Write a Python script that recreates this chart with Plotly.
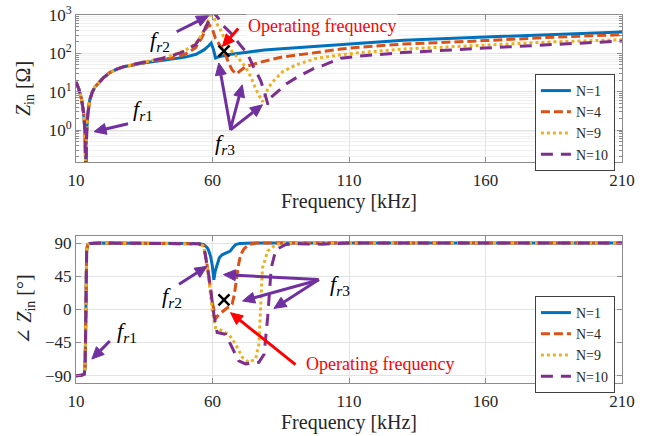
import math
import plotly.graph_objects as go

# ---------------- data ----------------
# magnitude |Zin| in ohm
f_mag_n1 = [10, 11, 12, 12.8, 13.3, 13.6, 13.9, 14.3, 15, 16, 17, 18.5, 20, 22.5, 25, 27.5, 30, 35, 40,
            45, 50, 54, 57, 58.6, 59.5, 60.3, 61.1, 62, 64, 66, 72, 79, 84, 98, 110, 130, 160, 185, 210]
z_n1 = [18, 12, 6.5, 2.8, 0.9, 0.05, 0.9, 2.5, 6, 10, 13.5, 18, 23, 32, 39, 45, 49, 57, 63,
        70, 80, 95, 125, 158, 185, 130, 76, 80, 88, 93, 105, 123, 130, 152, 180, 220, 268, 315, 360]

f_mag_n4 = [10, 11, 12, 12.8, 13.3, 13.6, 13.9, 14.3, 15, 16, 17, 18.5, 20, 22.5, 25, 27.5, 30, 35, 40,
            45, 50, 53.8, 56, 57.5, 58.8, 60, 61.1, 63, 64.8, 66, 67.2, 68.7, 70, 72, 78, 85.6, 98, 107,
            114, 130, 160, 185, 210]
z_n4 = [18, 12, 6.5, 2.8, 0.9, 0.05, 0.9, 2.5, 6, 10, 13.5, 18, 23, 32, 39, 45, 49, 58, 66,
        76, 95, 140, 250, 430, 560, 420, 245, 150, 91, 55, 37, 29, 34, 45, 60, 81, 105, 130,
        145, 175, 215, 265, 306]

f_mag_n9 = [10, 11, 12, 12.8, 13.3, 13.6, 13.9, 14.3, 15, 16, 17, 18.5, 20, 22.5, 25, 27.5, 30, 35, 40,
            45, 50, 53.8, 56, 58, 59.6, 61, 63, 64.2, 67, 69.5, 72, 74, 75.8, 77.5, 78.3, 79.5, 80.5,
            82, 85.6, 90.5, 98, 107, 114, 130, 160, 185, 210]
z_n9 = [18, 12, 6.5, 2.8, 0.9, 0.05, 0.9, 2.5, 6, 10, 13.5, 18, 23, 32, 39, 45, 50, 60, 70,
        88, 120, 180, 300, 600, 1200, 700, 400, 260, 115, 75, 45, 25, 12, 7, 5.5, 9, 13,
        18, 33, 50, 74, 92, 105, 130, 168, 200, 228]

f_mag_n10 = [10, 11, 12, 12.8, 13.3, 13.6, 13.9, 14.3, 15, 16, 17, 18.5, 20, 22.5, 25, 27.5, 30, 35, 40,
             45, 50, 53.8, 56, 58, 60.2, 62, 64, 66, 67.8, 70, 72.7, 75, 77.6, 79, 80.3, 81.3, 83.8,
             87, 91, 97, 101, 107, 114, 130, 160, 185, 210]
z_n10 = [18, 12, 6.5, 2.8, 0.9, 0.05, 0.9, 2.5, 6, 10, 13.5, 18, 23, 32, 39, 45, 50, 60, 70,
         86, 115, 170, 290, 560, 1200, 850, 520, 380, 277, 170, 102, 45, 20, 10, 4.6, 7, 10,
         16, 24, 40, 50, 75, 85, 105, 138, 172, 210]

# phase of Zin in degrees
f_ph_n1 = [10, 12, 13, 13.3, 13.5, 13.6, 13.7, 13.9, 14.3, 15, 20, 40, 55, 56.8, 58, 58.6, 59.3, 59.9,
           60.5, 61, 61.7, 62.5, 63.5, 65, 66.5, 67.5, 68.5, 70, 75, 210]
ph_n1 = [-90, -89.5, -88, -80, -40, 0, 40, 80, 88, 89.5, 90, 90, 89.5, 88, 84, 80, 72, 60,
         40, 52, 61, 70, 74, 77, 79, 84, 88, 89.5, 90, 90]

f_ph_n4 = [10, 12, 13, 13.3, 13.5, 13.6, 13.7, 13.9, 14.3, 15, 20, 40, 55, 56.8, 58, 59.9, 61.1, 62.3,
           64.8, 67.2, 68, 68.5, 69.5, 70.3, 71.5, 73.3, 76, 210]
ph_n4 = [-90, -89.5, -88, -80, -40, 0, 40, 80, 88, 89.5, 90, 90, 89, 86, 61, 11, -13, -7,
         0, 7, 20, 34, 60, 74, 82, 88, 90, 90]

f_ph_n9 = [10, 12, 13, 13.3, 13.5, 13.6, 13.7, 13.9, 14.3, 15, 20, 40, 55, 56.8, 58, 58.6, 59.9, 61.1,
           63.5, 66, 68.4, 70.9, 73.3, 75.8, 77, 77.6, 78.3, 80.2, 83.2, 86, 210]
ph_n9 = [-90, -89.5, -88, -80, -40, 0, 40, 80, 88, 89.5, 90, 90, 89, 86, 60, 43, -2, -25,
         -29, -34, -47, -65, -72, -67.5, -47, 11, 56, 79, 88, 90, 90]

f_ph_n10 = [10, 12, 13, 13.3, 13.5, 13.6, 13.7, 13.9, 14.3, 15, 20, 40, 55, 56.8, 58, 58.6, 60.5, 61.7,
            64.8, 67.2, 69.6, 72.1, 77, 78.9, 80.2, 81.5, 83.2, 86.9, 90, 100, 110, 210]
ph_n10 = [-90, -89.5, -88, -80, -40, 0, 40, 80, 88, 89.5, 90, 90, 89, 86, 60, 47, -7, -31.5,
          -34, -52, -70, -74, -72, -61, -11, 56, 81, 88, 89, 88.5, 90, 90]

series_names = ["N=1", "N=4", "N=9", "N=10"]
series_colors = ["#0072BD", "#D95319", "#EDB120", "#7E2F8E"]
series_dash = ["solid", "9px,4px", "3px,3px", "12px,8px"]

op_freq = [64.2]
op_mag = [115]
op_phase = [13]

x_ticks = [10, 60, 110, 160, 210]
mag_ticks = [1, 10, 100, 1000]
mag_ticktext = ["10<sup>0</sup>", "10<sup>1</sup>", "10<sup>2</sup>", "10<sup>3</sup>"]
ph_ticks = [-90, -45, 0, 45, 90]

# ---------------- figure ----------------
FONT = "Times New Roman, Liberation Serif, Tinos, DejaVu Serif, serif"
fig = go.Figure()

mag_f = [f_mag_n1, f_mag_n4, f_mag_n9, f_mag_n10]
mag_z = [z_n1, z_n4, z_n9, z_n10]
ph_f = [f_ph_n1, f_ph_n4, f_ph_n9, f_ph_n10]
ph_v = [ph_n1, ph_n4, ph_n9, ph_n10]

for i in range(4):
    fig.add_trace(go.Scatter(x=mag_f[i], y=mag_z[i], mode="lines", name=series_names[i],
                             line=dict(color=series_colors[i], width=3, dash=series_dash[i]),
                             xaxis="x", yaxis="y", legend="legend"))
for i in range(4):
    fig.add_trace(go.Scatter(x=ph_f[i], y=ph_v[i], mode="lines", name=series_names[i],
                             line=dict(color=series_colors[i], width=3, dash=series_dash[i]),
                             xaxis="x2", yaxis="y2", legend="legend2"))

xmark = dict(symbol="x-thin", size=11, color="black", line=dict(width=2.5, color="black"))
fig.add_trace(go.Scatter(x=op_freq, y=op_mag, mode="markers", marker=xmark, showlegend=False,
                         xaxis="x", yaxis="y"))
fig.add_trace(go.Scatter(x=op_freq, y=op_phase, mode="markers", marker=xmark, showlegend=False,
                         xaxis="x2", yaxis="y2"))

axis_common = dict(showline=True, linecolor="#8c8c8c", linewidth=1, mirror="ticks",
                   ticks="inside", ticklen=5, tickcolor="#8c8c8c", zeroline=False,
                   gridcolor="#e3e3e3", gridwidth=1, automargin=False,
                   tickfont=dict(family=FONT, size=17, color="#262626"))

fig.update_layout(
    width=651, height=436,
    margin=dict(l=76, r=29, t=15, b=53),
    paper_bgcolor="white", plot_bgcolor="white",
    font=dict(family=FONT, color="#262626"),
    xaxis=dict(domain=[0, 1], anchor="y", range=[10, 210], tickvals=x_ticks, ticklabelstandoff=3,
               title=dict(text="Frequency [kHz]", font=dict(family=FONT, size=20), standoff=4),
               **axis_common),
    yaxis=dict(domain=[0.6005, 1], anchor="x", type="log", range=[-0.83, 3],
               tickvals=mag_ticks, ticktext=mag_ticktext,
               minor=dict(ticks="inside", ticklen=3, tickcolor="#8c8c8c", showgrid=True,
                          gridcolor="#f0f0f0", dtick="D1"),
               title=dict(text="<i>Z</i><sub>in</sub> [Ω]", font=dict(family=FONT, size=20), standoff=12),
               **axis_common),
    xaxis2=dict(domain=[0, 1], anchor="y2", range=[10, 210], tickvals=x_ticks, ticklabelstandoff=3,
                title=dict(text="Frequency [kHz]", font=dict(family=FONT, size=20), standoff=4),
                **axis_common),
    yaxis2=dict(domain=[0, 0.4003], anchor="x2", range=[-100, 100], tickvals=ph_ticks,
                title=dict(text="∠ <i>Z</i><sub>in</sub> [°]", font=dict(family=FONT, size=20), standoff=8),
                **axis_common),
    legend=dict(x=0.987, y=0.8397, xanchor="right", yanchor="top", bgcolor="white",
                bordercolor="#404040", borderwidth=1, font=dict(family=FONT, size=14, color="#262626"),
                itemwidth=30, tracegroupgap=0),
    legend2=dict(x=0.987, y=0.2364, xanchor="right", yanchor="top", bgcolor="white",
                 bordercolor="#404040", borderwidth=1, font=dict(family=FONT, size=14, color="#262626"),
                 itemwidth=30, tracegroupgap=0),
    showlegend=True,
)

PURPLE = "#7030A0"
RED = "#FF0000"

shapes = []


def arrow(xref, yref, x, y, ax, ay, color, head_len=12, head_w=5.5, width=3, log_y=False):
    """Arrow whose tip sits at (x, y); tail is (ax, ay) screen pixels away
    (ay positive = downward). Drawn as pixel-sized shapes anchored at the tip.
    For the log axis, y is given as log10 and converted to a data value."""
    if log_y:
        y = 10 ** y
    tx, ty = ax, -ay  # pixel coords relative to the tip, y up
    length = math.hypot(tx, ty)
    dx, dy = -tx / length, -ty / length  # unit vector tail -> tip
    bx, by = -dx * head_len, -dy * head_len  # base centre of the head
    nx, ny = -dy, dx
    common = dict(xref=xref, yref=yref, xsizemode="pixel", ysizemode="pixel",
                  xanchor=x, yanchor=y, layer="above")
    shapes.append(dict(type="path", path=f"M{tx:.2f},{ty:.2f} L{bx:.2f},{by:.2f}",
                       line=dict(color=color, width=width), **common))
    shapes.append(dict(type="path",
                       path=(f"M0,0 L{bx + nx * head_w:.2f},{by + ny * head_w:.2f} "
                             f"L{bx - nx * head_w:.2f},{by - ny * head_w:.2f} Z"),
                       line=dict(color=color, width=1), fillcolor=color, **common))


def label(xref, yref, x, y, text, size=22, color="black", bg=None):
    d = dict(xref=xref, yref=yref, x=x, y=y, text=text, showarrow=False,
             font=dict(family=FONT, size=size, color=color), xanchor="center", yanchor="middle")
    if bg:
        d["bgcolor"] = bg
    return d


fr1 = "<i>f</i><sub><i>r</i>1</sub>"
fr2 = "<i>f</i><sub><i>r</i>2</sub>"
fr3 = "<i>f</i><sub><i>r</i>3</sub>"

# top plot arrows (tip y given as log10 of the impedance)
arrow("x", "y", 16.6, -0.04, 34, -8, PURPLE, log_y=True)
arrow("x", "y", 58.6, 2.98, -32, 16, PURPLE, log_y=True)
arrow("x", "y", 62.3, 1.75, 12, 67, PURPLE, log_y=True)
arrow("x", "y", 70.9, 1.18, -12, 45, PURPLE, log_y=True)
arrow("x", "y", 78.3, 0.66, -32, 25, PURPLE, log_y=True)
arrow("x", "y", 63.6, 2.18, 16, -18, RED, log_y=True)
# bottom plot arrows
arrow("x2", "y2", 15.8, -67.5, 18, -18, PURPLE)
arrow("x2", "y2", 58.0, 58.4, -28, 18, PURPLE)
arrow("x2", "y2", 64.0, 47.2, 95, 5, PURPLE)
arrow("x2", "y2", 71.0, 11.4, 76, -21, PURPLE)
arrow("x2", "y2", 82.5, 1.3, 45, -29, PURPLE)
arrow("x2", "y2", 66.6, -4.5, 65, 52, RED)

annotations = [
    label("x", "y", 34.6, 0.53, fr1),
    label("x", "y", 40.9, 2.33, fr2),
    label("x", "y", 64.4, -0.36, fr3),
    label("x", "y", 100.1, 2.71, "Operating frequency", size=18, color=RED, bg="white"),
    label("x2", "y2", 28.75, -31.1, fr1),
    label("x2", "y2", 45.1, 16.8, fr2),
    label("x2", "y2", 106.7, 33.7, fr3),
    label("x2", "y2", 121.4, -74.3, "Operating frequency", size=18, color=RED),
]
fig.update_layout(annotations=annotations, shapes=shapes)

fig.write_html("out.html", config={"displayModeBar": False})
